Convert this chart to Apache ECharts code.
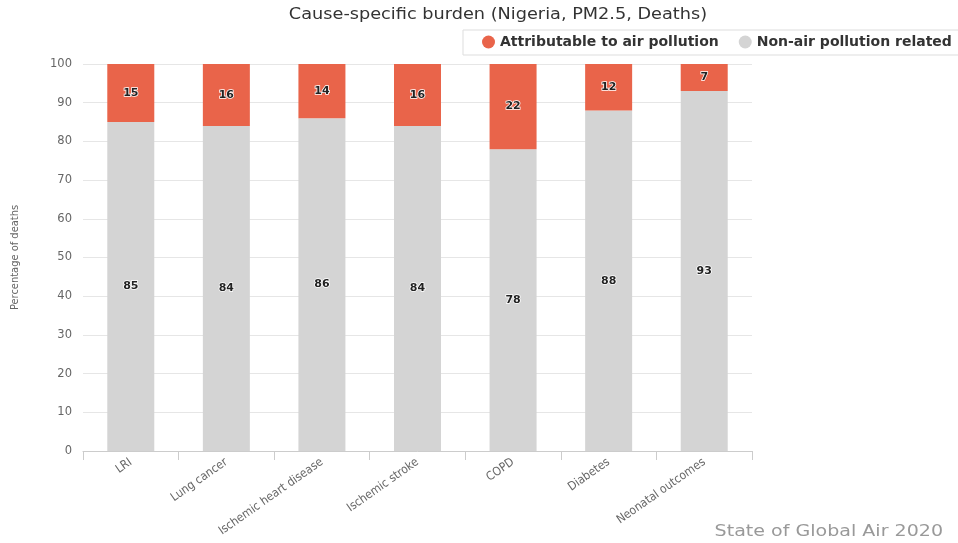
<!DOCTYPE html>
<html>
<head>
<meta charset="utf-8">
<title>Cause-specific burden (Nigeria, PM2.5, Deaths)</title>
<script src="https://cdn.jsdelivr.net/npm/echarts@6/dist/echarts.min.js"></script>
<style>
  html, body { margin: 0; padding: 0; background: #fff; }
  #chart { width: 958px; height: 543px; }
</style>
</head>
<body>
<div id="chart"></div>
<script>
// Share of deaths per cause, split into PM2.5-attributable and the remainder
const causes = ['LRI', 'Lung cancer', 'Ischemic heart disease', 'Ischemic stroke', 'COPD', 'Diabetes', 'Neonatal outcomes'];
const airPollution = [15, 16, 14, 16, 22, 12, 7];
const nonAirPollution = [85, 84, 86, 84, 78, 88, 93];
const yTicks = { min: 0, max: 100, interval: 10 };

const ORANGE = '#e9644a';
const GREY = '#d4d4d4';

const labelStyle = {
  show: true,
  position: 'inside',
  fontFamily: 'DejaVu Sans',
  fontSize: 11,
  fontWeight: 'bold',
  color: '#222',
  textBorderColor: '#fff',
  textBorderWidth: 1.5
};

const chart = echarts.init(document.getElementById('chart'), null, { renderer: 'canvas' });

chart.setOption({
  animation: false,
  backgroundColor: '#fff',
  graphic: [
    {
      // chart title, drawn slightly wide
      type: 'text',
      x: 498,
      y: 15,
      scaleX: 1.18,
      style: {
        text: 'Cause-specific burden (Nigeria, PM2.5, Deaths)',
        font: '15px "DejaVu Sans"',
        fill: '#333',
        align: 'center',
        verticalAlign: 'middle'
      }
    },
    {
      // source credit, bottom right
      type: 'text',
      x: 943,
      y: 532,
      scaleX: 1.27,
      style: {
        text: 'State of Global Air 2020',
        font: '15px "DejaVu Sans"',
        fill: '#999',
        align: 'right',
        verticalAlign: 'middle'
      }
    }
  ],
  legend: {
    left: 463,
    top: 30,
    width: 540,
    orient: 'horizontal',
    data: ['Attributable to air pollution', 'Non-air pollution related'],
    icon: 'circle',
    itemWidth: 13,
    itemHeight: 13,
    itemGap: 20,
    padding: [5, 12, 6, 19],
    borderColor: '#ddd',
    borderWidth: 1,
    textStyle: { fontFamily: 'DejaVu Sans', fontSize: 14, fontWeight: 'bold', color: '#333' }
  },
  grid: { left: 83, right: 206, top: 64, bottom: 92, containLabel: false },
  xAxis: {
    type: 'category',
    data: causes,
    boundaryGap: true,
    axisLine: { lineStyle: { color: '#ccc' } },
    axisTick: { show: true, length: 9, lineStyle: { color: '#ccc' } },
    axisLabel: {
      rotate: 35,
      interval: 0,
      margin: 10,
      fontFamily: 'DejaVu Sans Condensed',
      fontSize: 12,
      color: '#666'
    }
  },
  yAxis: {
    type: 'value',
    min: yTicks.min,
    max: yTicks.max,
    interval: yTicks.interval,
    name: 'Percentage of deaths',
    nameLocation: 'middle',
    nameGap: 62,
    nameTextStyle: { fontFamily: 'DejaVu Sans Condensed', fontSize: 11, color: '#666' },
    axisLine: { show: false },
    axisTick: { show: false },
    axisLabel: { fontFamily: 'DejaVu Sans', fontSize: 11.5, color: '#666', margin: 11 },
    splitLine: { lineStyle: { color: '#e6e6e6' } }
  },
  series: [
    {
      name: 'Non-air pollution related',
      type: 'bar',
      stack: 'total',
      data: nonAirPollution,
      barWidth: 47,
      itemStyle: { color: GREY },
      label: labelStyle
    },
    {
      name: 'Attributable to air pollution',
      type: 'bar',
      stack: 'total',
      data: airPollution,
      barWidth: 47,
      itemStyle: { color: ORANGE },
      label: labelStyle
    }
  ]
});
</script>
</body>
</html>
